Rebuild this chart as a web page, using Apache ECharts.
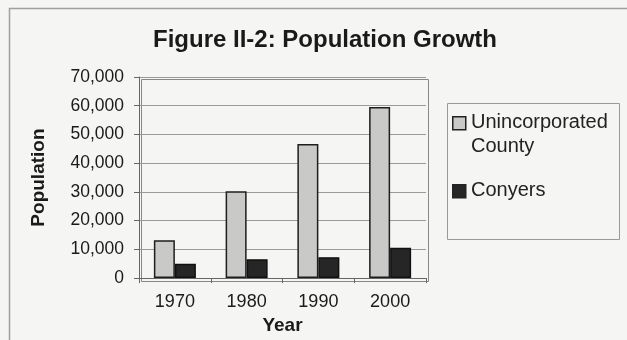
<!DOCTYPE html>
<html><head><meta charset="utf-8">
<script src="https://cdn.jsdelivr.net/npm/echarts@6/dist/echarts.min.js"></script>
<style>html,body{margin:0;padding:0;background:#f5f5f3}#c{width:627px;height:340px}</style>
</head><body><div id="c"></div>
<script>
const years = ['1970','1980','1990','2000'];
const seriesNames = ['Unincorporated County','Conyers'];
const unincorporated = [13200, 30200, 46700, 59600];
const conyers = [5000, 6600, 7300, 10600];
const yTicks = [0,10000,20000,30000,40000,50000,60000,70000];

const FONT = '"Liberation Sans", Arial, sans-serif';
const colors = ['#c9c9c7', '#262626'];
const chart = echarts.init(document.getElementById('c'));
const legendLines = [['Unincorporated','County'],['Conyers']];
const legendGraphics = [];
let ly = 116;
seriesNames.forEach((n,i)=>{
  legendGraphics.push({type:'rect', left:452, top:ly, shape:{width:13,height:13}, style:{fill:colors[i], stroke:'#222', lineWidth:1.5}});
  legendGraphics.push({type:'text', left:471, top:ly-6, style:{text:legendLines[i].join('\n'), font:'20px '+FONT, fill:'#222', lineHeight:24}});
  ly += legendLines[i].length*24 + 20;
});
chart.setOption({
  backgroundColor:'#f5f5f3',
  animation:false,
  title:{text:'Figure II-2: Population Growth', left:320, textAlign:'center', top:23, textStyle:{fontFamily:FONT, fontSize:24, fontWeight:'bold', color:'#1a1a1a'}},
  grid:{left:139, top:77, width:287, height:202},
  xAxis:{type:'category', data:years, name:'Year', nameLocation:'middle', nameGap:35,
    nameTextStyle:{fontFamily:FONT, fontSize:19, fontWeight:'bold', color:'#1a1a1a'},
    axisLine:{lineStyle:{color:'#666', width:1}}, axisTick:{show:true, length:5, lineStyle:{color:'#666'}},
    axisLabel:{fontFamily:FONT, fontSize:18, color:'#1a1a1a', margin:15}},
  yAxis:{type:'value', min:0, max:70000, interval:10000, name:'Population', nameLocation:'middle', nameGap:91,
    nameTextStyle:{fontFamily:FONT, fontSize:19, fontWeight:'bold', color:'#1a1a1a'},
    axisLine:{show:true, lineStyle:{color:'#666'}}, axisTick:{show:true, length:5, lineStyle:{color:'#666'}},
    axisLabel:{fontFamily:FONT, fontSize:17.5, color:'#1a1a1a', margin:15, formatter:v=>v.toLocaleString('en-US')},
    splitLine:{lineStyle:{color:'#9a9a98', width:1}}},
  series:[
    {name:seriesNames[0], type:'bar', data:unincorporated, barWidth:21, barGap:'0%', itemStyle:{color:colors[0], borderColor:'#1e1e1e', borderWidth:1.5}},
    {name:seriesNames[1], type:'bar', data:conyers, barWidth:21, itemStyle:{color:colors[1], borderColor:'#111', borderWidth:1.5}}
  ],
  graphic:[
    {type:'rect', left:7, top:6, shape:{width:700,height:400}, style:{fill:'none', stroke:'#a0a0a0', lineWidth:1.5}, z:-1},
    {type:'rect', left:139, top:77, shape:{width:287,height:202}, style:{fill:'none', stroke:'#888', lineWidth:1}, z:-1},
    {type:'rect', left:445, top:101, shape:{width:172,height:136}, style:{fill:'none', stroke:'#999', lineWidth:1}},
    ...legendGraphics
  ]
});
</script></body></html>
